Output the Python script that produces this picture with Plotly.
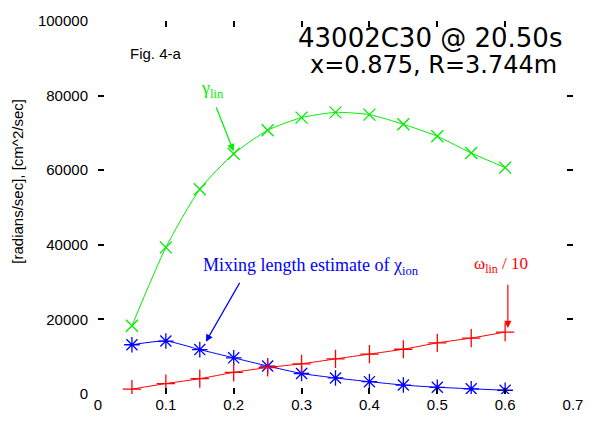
import plotly.graph_objects as go

x_vals = [0.05, 0.10, 0.15, 0.20, 0.25, 0.30, 0.35, 0.40, 0.45, 0.50, 0.55, 0.60]
gamma_lin = [18300, 39300, 54900, 64400, 70700, 74100, 75500, 74900, 72300, 69100, 64600, 60700]
chi_ion = [13200, 14200, 11900, 9700, 7500, 5500, 4300, 3300, 2400, 1800, 1400, 1000]
omega_lin10 = [1300, 2800, 4100, 5800, 7100, 8100, 9400, 10700, 12000, 13700, 15000, 16600]

x_ticks = [0, 0.1, 0.2, 0.3, 0.4, 0.5, 0.6, 0.7]
x_tick_labels = ["0", "0.1", "0.2", "0.3", "0.4", "0.5", "0.6", "0.7"]
y_ticks = [0, 20000, 40000, 60000, 80000, 100000]
y_tick_labels = ["0", "20000", "40000", "60000", "80000", "100000"]

GREEN = "#00ee00"
BLUE = "#0000ff"
RED = "#ff0000"

fig = go.Figure()
fig.add_trace(go.Scatter(x=x_vals, y=gamma_lin, mode="lines+markers",
                         line=dict(color=GREEN, width=1, shape="spline", smoothing=0.6),
                         marker=dict(symbol="x-thin-open", size=12, color=GREEN,
                                     line=dict(color=GREEN, width=1.3))))
fig.add_trace(go.Scatter(x=x_vals, y=chi_ion, mode="lines+markers",
                         line=dict(color=BLUE, width=1, shape="spline", smoothing=0.6),
                         marker=dict(symbol="asterisk-open", size=13, color=BLUE,
                                     line=dict(color=BLUE, width=1.3))))
fig.add_trace(go.Scatter(x=x_vals, y=omega_lin10, mode="lines+markers",
                         line=dict(color=RED, width=1, shape="spline", smoothing=0.6),
                         marker=dict(symbol="cross-thin-open", size=13, color=RED,
                                     line=dict(color=RED, width=1.3))))

serif = "Liberation Serif, Times New Roman, serif"
sans = "Liberation Sans, Arial, sans-serif"
wide = "DejaVu Sans, Liberation Sans, sans-serif"

C = dict(xanchor="center", yanchor="middle")

annotations = [
    dict(x=0.168, y=81700, text="γ<sub>lin</sub>", showarrow=False,
         font=dict(family=serif, size=18, color=GREEN), **C),
    dict(x=0.1998, y=65100, ax=0.1735, ay=77200, axref="x", ayref="y", text="",
         showarrow=True, arrowhead=2, arrowsize=1.2, arrowwidth=1.2, arrowcolor=GREEN, standoff=0),
    dict(x=0.3136, y=34100, text="Mixing length estimate of χ<sub>ion</sub>", showarrow=False,
         font=dict(family=serif, size=18, color=BLUE), **C),
    dict(x=0.159, y=14000, ax=0.21, ay=30200, axref="x", ayref="y", text="",
         showarrow=True, arrowhead=2, arrowsize=1.2, arrowwidth=1.2, arrowcolor=BLUE, standoff=0),
    dict(x=0.594, y=34600, text="ω<sub>lin</sub> / 10", showarrow=False,
         font=dict(family=serif, size=17, color=RED), **C),
    dict(x=0.604, y=17700, ax=0.604, ay=29700, axref="x", ayref="y", text="",
         showarrow=True, arrowhead=2, arrowsize=1.2, arrowwidth=1.2, arrowcolor=RED, standoff=0),
    dict(xref="paper", yref="paper", x=(157 - 98) / 480, y=(394 - 49) / 378, text="Fig. 4-a",
         showarrow=False, font=dict(family=sans, size=15, color="black"), **C),
    dict(xref="paper", yref="paper", x=(433 - 98) / 480, y=(394 - 33) / 378, text="43002C30 @ 20.50s",
         showarrow=False, font=dict(family=wide, size=26, color="black"), **C),
    dict(xref="paper", yref="paper", x=(437 - 98) / 480, y=(394 - 61) / 378, text="x=0.875, R=3.744m",
         showarrow=False, font=dict(family=wide, size=24, color="black"), **C),
    dict(xref="paper", yref="paper", x=(17 - 98) / 480, y=(394 - 178) / 378, text="[radians/sec], [cm^2/sec]",
         textangle=-90, showarrow=False, font=dict(family=sans, size=15, color="black"), **C),
]

fig.update_layout(
    width=595, height=430,
    margin=dict(l=98, r=17, t=16, b=36),
    paper_bgcolor="white", plot_bgcolor="white",
    showlegend=False,
    font=dict(family=sans, size=15, color="black"),
    annotations=annotations,
    xaxis=dict(range=[0, 0.7], tickvals=x_ticks, ticktext=x_tick_labels,
               ticks="inside", ticklen=6, tickwidth=2, tickcolor="black",
               mirror="ticks", showline=False, showgrid=False, zeroline=False,
               tickfont=dict(family=sans, size=15)),
    yaxis=dict(range=[0, 100000], tickvals=y_ticks, ticktext=y_tick_labels,
               ticks="inside", ticklen=6, tickwidth=2, tickcolor="black",
               mirror="ticks", showline=False, showgrid=False, zeroline=False,
               ticklabelstandoff=9,
               tickfont=dict(family=sans, size=15)),
)

fig.write_html("out.html")
